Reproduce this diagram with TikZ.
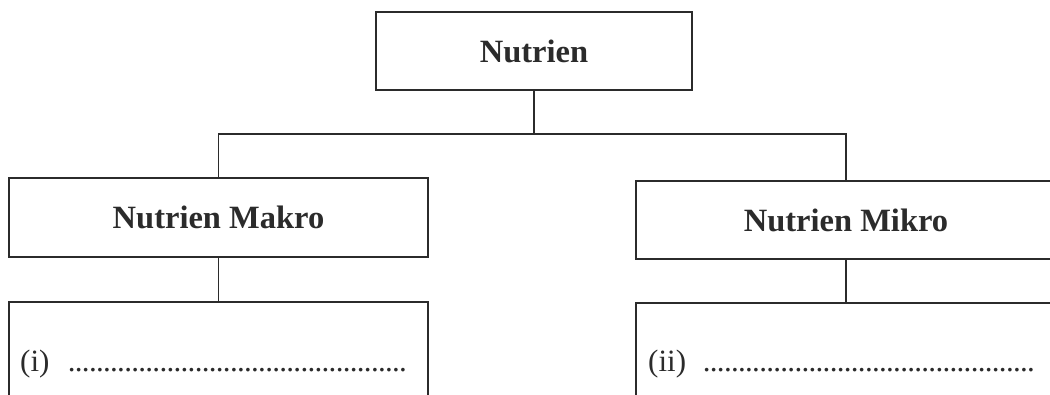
\documentclass[tikz,border=0pt]{standalone}
\usepackage{fontspec}
\setmainfont{Liberation Serif}
\definecolor{ink}{HTML}{2B2B2B}
\newcommand{\mydots}[1]{\hbox to #1{\leaders\hbox to 7.05pt{\hss.\hss}\hfill}}
\begin{document}
\begin{tikzpicture}[x=1pt,y=-1pt,
  box/.style={draw=ink, line width=1.8pt, inner sep=0pt, text=ink,
    font=\fontsize{32.5}{38}\selectfont\bfseries},
  lbl/.style={inner sep=0pt, anchor=base west, text=ink,
    font=\fontsize{31}{36}\selectfont},
  conn/.style={draw=ink, line width=1.8pt}]
\useasboundingbox (0,0) rectangle (1050,394);
\clip (0,0) rectangle (1050,394);
\node[box, minimum width=316pt, minimum height=78pt] (top) at (534,51) {Nutrien};
\node[box, minimum width=419pt, minimum height=79pt] (makro) at (218.5,217.5) {Nutrien Makro};
\node[box, minimum width=420pt, minimum height=78pt] (mikro) at (846,220) {Nutrien Mikro};
\node[box, minimum width=419pt, minimum height=100pt] (bl) at (218.5,352) {};
\node[box, minimum width=420pt, minimum height=100pt] (br) at (846,353) {};
\coordinate (bus) at (534,134);
\draw[conn] (top.south) -- (bus);
\draw[conn] (makro.north) |- (bus) -| (mikro.north);
\draw[conn] (makro.south) -- (bl.north);
\draw[conn] (mikro.south) -- (br.north);
\node[lbl] (li) at (20,371) {(i)};
\node[lbl] (ld) at (68,371) {\mydots{342pt}};
\node[lbl] (ri) at (648,371) {(ii)};
\node[lbl] (rd) at (703,371) {\mydots{337pt}};
\end{tikzpicture}
\end{document}
